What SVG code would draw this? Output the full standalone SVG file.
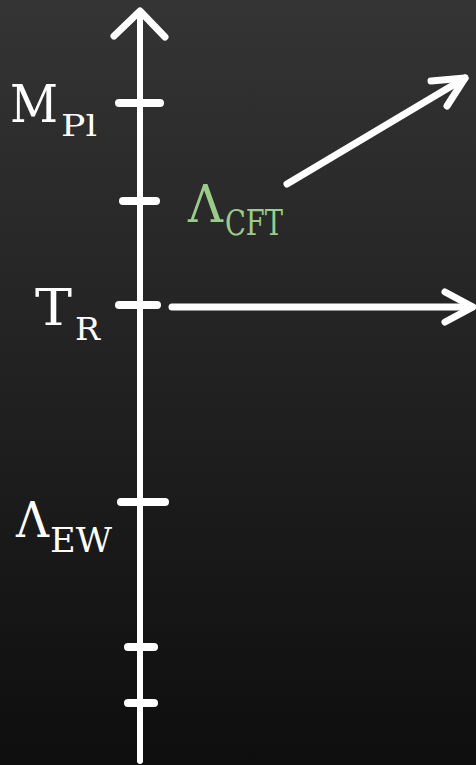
<svg xmlns="http://www.w3.org/2000/svg" width="476" height="765" viewBox="0 0 476 765">
<defs>
<linearGradient id="bg" x1="0" y1="0" x2="0" y2="1">
<stop offset="0" stop-color="#343434"/>
<stop offset="1" stop-color="#0e0e0e"/>
</linearGradient>
<style>
.ln{stroke:#fff;fill:none;stroke-linecap:round;stroke-linejoin:round}
.ax{stroke-width:6}
.tk{stroke-width:8}
.ar{stroke-width:7}
.t{font-family:'DejaVu Serif',serif;fill:#fff}
.g{fill:#9bcb8a}
</style>
</defs>
<rect width="476" height="765" fill="url(#bg)"/>
<g id="connectors">
<path class="ln ax" d="M140,12 V761"/>
<path class="ln ar" d="M114,36 L140,11 L165,37"/>
<path class="ln ar" d="M287,184 L465,78"/>
<path class="ln ar" d="M431,81 L465,78 L447,106"/>
<path class="ln ar" d="M172,307 H472"/>
<path class="ln ar" d="M445,292 L473,307 L445,322"/>
</g>
<g id="ticks">
<path class="ln tk" d="M119,103 H160"/>
<path class="ln tk" d="M123,201 H156"/>
<path class="ln tk" d="M119,305 H157"/>
<path class="ln tk" d="M121,502 H165"/>
<path class="ln tk" d="M128,647 H154"/>
<path class="ln tk" d="M128,703 H154"/>
</g>
<g id="MPl">
<text class="t" x="10" y="122" font-size="53" textLength="48" lengthAdjust="spacingAndGlyphs">M</text>
<text class="t" x="61" y="136" font-size="29" textLength="36" lengthAdjust="spacingAndGlyphs">Pl</text>
</g>
<g id="TR">
<text class="t" x="35" y="325" font-size="51" textLength="37" lengthAdjust="spacingAndGlyphs">T</text>
<text class="t" x="75" y="340" font-size="32" textLength="25" lengthAdjust="spacingAndGlyphs">R</text>
</g>
<g id="LEW">
<text class="t" x="16" y="537" font-size="48" textLength="33" lengthAdjust="spacingAndGlyphs">Λ</text>
<text class="t" x="50" y="552" font-size="34" textLength="62" lengthAdjust="spacingAndGlyphs">EW</text>
</g>
<g id="LCFT">
<text class="t g" x="188" y="222" font-size="52" textLength="35" lengthAdjust="spacingAndGlyphs">Λ</text>
<text class="t g" x="225" y="235" font-size="36" textLength="58" lengthAdjust="spacingAndGlyphs">CFT</text>
</g>
</svg>
